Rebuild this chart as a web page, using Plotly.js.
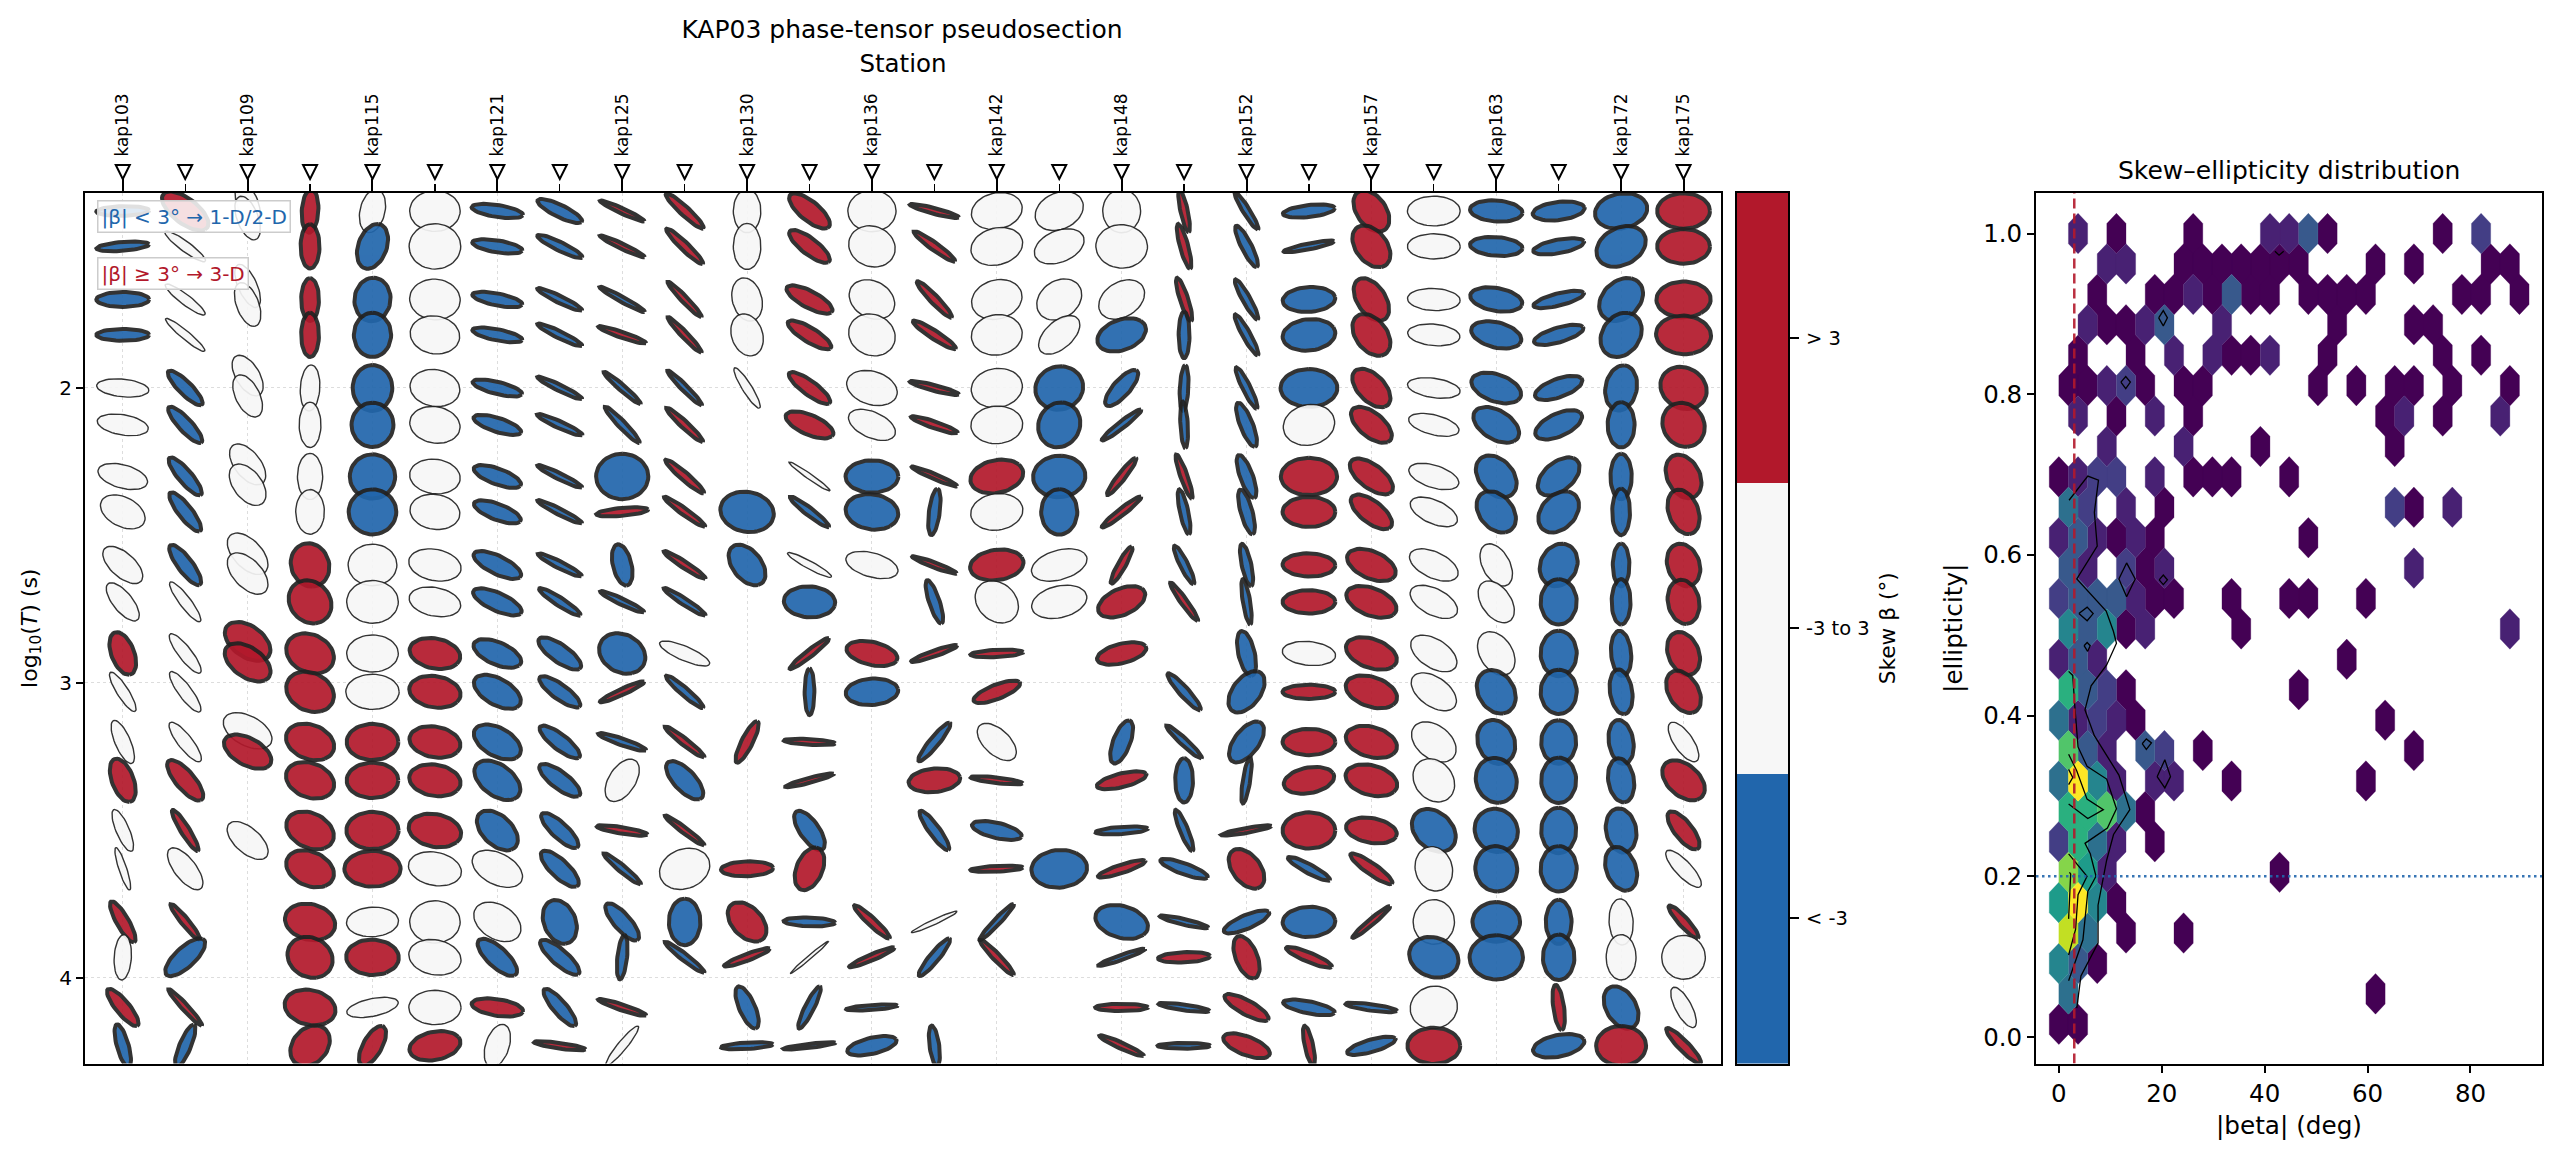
<!DOCTYPE html>
<html><head><meta charset="utf-8">
<script src="https://cdn.plot.ly/plotly-3.0.1.min.js"></script>
<style>html,body{margin:0;padding:0;background:#fff}#chart{width:2560px;height:1158px}</style>
</head><body><div id="chart"></div>
<script>
const _ = null;
// ---------- pseudosection data ----------
const labelledStations = [0,2,4,6,8,10,12,14,16,18,20,22,24,25];
const stationLabels = ['kap103','kap109','kap115','kap121','kap125','kap130','kap136','kap142','kap148','kap152','kap157','kap163','kap172','kap175'];
const otherStations = [1,3,5,7,9,11,13,15,17,19,21,23];
const logPeriods = [1.40,1.52,1.70,1.82,2.00,2.125,2.30,2.42,2.60,2.725,2.90,3.03,3.20,3.33,3.50,3.63,3.81,3.93,4.10,4.23];
const station2Periods = [1.375,1.424,1.654,1.717,1.958,2.027,2.259,2.328,2.562,2.629,2.859,2.930,3.162,3.233,3.534];
// skew class per station, per period: -1 below -3 deg, 0 within +-3 deg, 1 above 3 deg
const skewClass = [
[-1,-1,-1,-1,0,0,0,0,0,0,1,0,0,1,0,0,1,0,1,-1],
[1,0,0,0,-1,-1,-1,-1,-1,0,0,0,0,1,1,0,1,-1,1,-1],
[0,0,0,0,0,0,0,0,0,0,1,1,0,1,0],
[1,1,1,1,0,0,0,0,1,1,1,1,1,1,1,1,1,1,1,1],
[0,-1,-1,-1,-1,-1,-1,-1,0,0,0,0,1,1,1,1,0,1,0,1],
[0,0,0,0,0,0,0,0,0,0,1,1,1,1,1,0,0,0,0,1],
[-1,-1,-1,-1,-1,-1,-1,-1,-1,-1,-1,-1,-1,-1,-1,0,0,-1,1,0],
[-1,-1,-1,-1,-1,-1,-1,-1,-1,-1,-1,-1,-1,-1,-1,-1,-1,-1,-1,1],
[1,1,-1,1,-1,-1,-1,1,-1,-1,-1,1,-1,0,1,-1,-1,-1,1,0],
[1,1,1,1,-1,1,1,1,1,-1,0,-1,1,-1,1,0,-1,-1,_,_],
[0,0,0,0,0,_,_,-1,-1,_,_,_,1,_,_,1,1,1,-1,-1],
[1,1,1,1,1,1,0,-1,0,-1,1,-1,1,1,-1,1,-1,0,-1,-1],
[0,0,0,0,0,0,-1,-1,0,_,1,-1,_,_,_,_,1,1,-1,-1],
[1,1,1,1,1,1,1,-1,1,-1,1,_,-1,1,-1,_,0,-1,_,-1],
[0,0,0,0,0,0,1,0,1,0,1,1,0,1,-1,1,-1,1,_,_],
[0,0,0,0,-1,-1,-1,-1,0,0,_,_,_,_,_,-1,_,_,_,_],
[0,0,0,-1,-1,-1,1,1,1,1,1,_,-1,1,-1,1,-1,-1,1,1],
[1,1,1,-1,-1,-1,1,-1,-1,1,_,-1,-1,-1,-1,-1,-1,1,-1,-1],
[-1,-1,-1,-1,-1,-1,-1,-1,-1,-1,-1,-1,-1,-1,1,1,-1,1,1,1],
[-1,-1,-1,-1,-1,0,1,1,1,1,0,1,1,1,1,-1,-1,1,-1,1],
[1,1,1,1,1,1,1,1,1,1,1,1,1,1,1,1,1,_,-1,-1],
[0,0,0,0,0,0,0,0,0,0,0,0,0,0,-1,0,0,-1,0,1],
[-1,-1,-1,-1,-1,-1,-1,-1,0,0,0,-1,-1,-1,-1,-1,-1,-1,_,_],
[-1,-1,-1,-1,-1,-1,-1,-1,-1,-1,-1,-1,-1,-1,-1,-1,-1,-1,1,-1],
[-1,-1,-1,-1,-1,-1,-1,-1,-1,-1,-1,-1,-1,-1,-1,-1,0,0,-1,1],
[1,1,1,1,1,1,1,1,1,1,1,1,0,1,1,0,1,0,0,1]
];
// major principal value (percent of unit circle)
const phiMajor = [
[98,98,98,98,93,93,95,100,110,110,120,112,118,122,115,115,120,120,115,120],
[125,106,106,110,112,115,118,120,122,117,116,118,116,124,122,120,112,120,118,120],
[115,118,118,118,112,115,115,115,118,118,118,118,110,112,112],
[120,122,118,122,122,120,122,118,120,120,115,115,108,108,112,110,106,115,105,115],
[115,125,120,122,126,122,122,124,110,113,98,94,96,96,97,100,92,100,95,115],
[108,120,108,102,100,100,95,96,98,96,100,100,100,100,104,100,112,100,92,100],
[98,96,97,97,98,98,100,100,108,108,105,112,112,120,118,112,112,118,98,115],
[102,103,103,103,103,102,103,104,102,106,112,110,112,112,114,116,122,116,116,98],
[100,102,108,100,112,118,125,97,115,100,115,100,100,117,97,110,115,122,100,118],
[118,118,116,116,115,116,116,112,108,108,105,112,112,118,110,112,128,112,_,_],
[115,122,115,112,115,_,_,114,118,_,_,_,120,_,_,97,115,98,120,97],
[115,112,108,108,112,105,105,110,100,96,112,128,96,97,116,120,96,108,122,98],
[110,110,108,112,102,100,98,104,100,_,100,98,_,_,_,_,112,100,96,97],
[98,112,118,110,98,98,100,128,95,122,97,_,120,97,120,_,98,117,_,112],
[102,105,108,108,105,100,105,100,102,114,98,100,108,98,98,98,118,115,_,_],
[108,105,112,112,120,124,115,125,108,105,_,_,_,_,_,107,_,_,_,_],
[115,115,110,105,112,112,115,112,110,105,98,_,122,98,98,98,108,98,98,100],
[118,125,122,128,125,128,125,125,112,118,_,117,112,122,118,100,96,97,97,98],
[112,120,118,120,120,125,122,125,118,125,125,120,120,128,97,115,100,120,105,100],
[98,98,98,100,105,110,104,98,98,98,95,98,98,98,98,100,98,100,100,112],
[118,120,122,120,115,113,115,112,108,108,108,108,105,105,98,112,112,_,98,98],
[93,93,93,93,95,95,98,100,105,105,110,112,113,116,122,118,118,115,113,98],
[98,98,100,100,105,112,120,118,115,115,118,122,122,124,120,125,110,122,_,_],
[98,98,100,100,100,105,115,118,118,125,125,122,120,125,125,125,122,125,125,100],
[105,118,122,124,125,125,125,128,118,125,125,124,122,122,122,122,122,120,120,110],
[98,98,100,108,118,122,122,124,118,122,120,120,112,118,115,112,105,116,112,115]
];
const phiMinor = [
[22,20,36,28,46,52,58,65,50,38,38,22,28,36,24,14,20,30,24,18],
[50,22,22,18,24,24,24,24,26,22,26,26,28,34,14,42,12,38,10,18],
[38,38,34,40,44,44,50,54,56,56,62,60,66,58,52],
[26,30,28,28,34,38,44,50,64,70,76,76,74,74,72,72,80,74,80,62],
[44,48,60,62,66,70,76,80,85,90,90,92,92,90,95,95,77,88,45,32],
[88,90,88,85,85,85,85,84,78,72,72,76,74,76,78,82,88,85,90,68],
[28,28,28,26,28,32,36,36,40,40,50,56,60,62,56,70,72,38,40,42],
[26,18,14,14,12,14,12,12,14,16,36,30,30,34,30,34,54,30,24,12],
[10,10,10,12,10,12,88,18,30,12,74,12,14,50,14,12,30,14,12,18],
[16,14,10,10,10,12,14,12,12,12,34,14,12,40,10,84,52,12,_,_],
[48,48,52,55,18,_,_,88,52,_,_,_,18,_,_,36,55,14,26,14],
[38,32,36,30,28,44,12,14,18,78,12,14,12,10,34,44,20,8,14,8],
[84,80,75,80,78,60,82,84,60,_,55,66,_,_,_,_,14,12,10,38],
[12,14,14,16,12,14,10,16,10,16,12,_,16,58,18,_,12,16,_,14],
[84,85,85,88,88,90,78,88,75,72,16,32,52,12,36,12,10,12,_,_],
[78,72,74,56,80,70,88,60,72,78,_,_,_,_,_,92,_,_,_,_],
[66,90,72,68,30,12,12,12,12,58,46,_,28,32,16,18,74,10,16,12],
[10,12,12,16,12,10,10,12,12,10,_,16,12,28,12,24,12,24,12,12],
[10,16,12,12,12,20,20,18,14,10,26,50,44,10,10,50,30,36,30,42],
[28,12,62,78,96,88,95,76,58,58,62,34,66,62,92,18,76,20,28,12],
[52,56,50,56,50,48,48,44,60,62,66,68,70,70,60,22,10,_,14,28],
[78,66,58,56,50,50,55,55,60,60,62,62,68,70,68,65,72,80,82,92],
[52,46,56,60,62,60,62,60,50,55,60,62,62,68,72,70,80,90,_,_],
[44,32,28,34,42,50,56,62,62,60,60,60,58,58,58,60,42,52,16,52],
[82,76,68,66,52,44,34,28,26,30,32,36,40,42,50,50,42,52,52,84],
[90,88,92,92,76,70,56,50,54,52,52,52,36,60,32,32,16,76,30,18]
];
// orientation of the major axis, degrees anticlockwise from the station axis
const phiAngle = [
[2,7,0,0,-10,-18,-30,-55,-60,-65,-78,-68,-75,-78,-75,-78,-70,88,-63,-80],
[-55,-49,-50,-52,-58,-60,-62,-64,-65,-64,-64,-65,-64,-63,-68,-66,-62,58,-59,75],
[-78,-78,-75,-78,-72,-75,-68,-70,-65,-65,-60,-58,-52,-50,-60],
[88,90,90,90,88,90,90,90,-85,-80,-70,-70,-60,-60,-62,-60,-60,-78,-55,75],
[83,80,88,90,90,90,90,90,90,90,90,0,0,0,0,90,10,-60,20,72],
[90,90,-85,-75,-70,-65,-55,-60,-35,-30,-35,-35,-35,-35,-40,-40,90,-50,0,30],
[-14,-15,-18,-18,-22,-28,-32,-33,-40,-38,-40,-50,-52,-60,-65,-52,-62,-58,-15,80],
[-38,-37,-37,-37,-37,-35,-37,-38,-38,-45,-50,-50,-52,-52,-57,-58,-80,-55,-62,-12],
[-35,-36,-40,-28,-53,-58,90,8,-82,-36,-72,35,-28,72,-14,-52,-62,86,-27,62],
[-55,-56,-58,-58,-57,-55,-53,-48,-45,-45,-35,-53,-50,-62,-49,70,90,-50,_,_],
[90,90,-83,-82,-68,_,_,-70,-70,_,_,_,72,_,_,3,-68,30,-75,5],
[-55,-52,-42,-45,-50,-38,-47,-50,-40,-15,50,90,-5,22,-68,78,-3,52,72,10],
[90,-80,-70,-80,-50,-45,0,-50,-30,_,-25,10,_,_,_,_,-55,33,6,22],
[-22,-48,-58,-45,-22,-28,-33,85,-30,-78,28,_,62,12,-65,_,35,62,_,-85],
[60,60,70,80,75,80,40,60,25,-75,4,33,-62,-10,-22,4,58,-58,_,_],
[65,50,72,62,85,85,85,90,35,35,_,_,_,_,_,55,_,_,_,_],
[90,-88,65,48,62,50,63,50,70,45,25,_,77,22,6,27,-42,28,0,-35],
[-82,-80,-78,90,88,-88,-77,-82,-72,-65,_,-60,-55,90,-75,-30,-20,4,-12,0],
[-68,-72,-70,-70,-72,-76,-77,-80,-82,-84,-82,70,68,84,15,-70,35,-77,-42,-35],
[10,17,8,25,90,75,90,0,-3,0,-12,0,0,25,0,-40,8,-33,-18,-82],
[-72,-72,-72,-72,-65,-58,-55,-55,-45,-42,-42,-42,-40,-38,-22,-48,52,_,-12,25],
[0,0,-5,-10,-15,-25,-32,-42,-45,-48,-55,-58,-65,-78,-72,-85,90,-72,85,0],
[-8,-8,-20,-30,-40,-55,-72,-73,-75,-72,-75,-78,-82,-85,-85,-88,90,90,_,_],
[12,17,22,26,33,42,62,72,82,90,90,90,90,90,90,90,90,90,-85,22],
[50,65,72,78,85,90,90,90,90,-90,-87,-85,-85,-85,-85,-80,-88,90,-75,90],
[0,0,-50,-70,-78,-83,-78,-80,-82,-85,-80,-75,-68,-65,-65,-60,-60,90,-72,-58]
];
// ---------- colour bar ----------
const skewBinLabels = ['< -3','-3 to 3','> 3'];
// ---------- hexbin: occupied columns and counts for each lattice row, bottom to top ----------
const hexColumns = [
[0,1],[0,16],[0,1,2],[0,1,3,6],[0,1,2,3],[0,1,2,11],[0,1,2,3,5],[0,1,2,3,4],
[0,1,2,3,5,6,9,16],[0,1,2,4,5,7,18],[0,1,2,3,4,17],[0,1,2,3,12],[0,1,2,15],[0,1,2,3,4,9,23],
[0,1,2,3,4,5,6,9,12,13,16],[0,1,3,4,5,18],[0,1,2,3,4,5,13],[0,1,3,5,17,18,20],[0,1,2,3,5,7,8,9,12],
[2,6,10,17],[1,3,5,7,17,18,20,23],[0,1,2,3,4,6,7,13,15,17,18,20,23],[1,4,6,8,9,10,11,14,20,22],
[1,2,3,4,5,8,14,18,19],[2,5,6,7,8,9,10,11,13,14,15,16,21,22,24],[2,3,6,7,8,9,10,11,12,16,18,22,23],
[1,3,7,11,12,13,14,20,22]
];
const hexCounts = [
[1,1],[5,1],[6,4,1],[11,5,1,1],[7,12,6,1],[10,7,2,1],[3,8,5,2,1],[8,8,9,5,1],
[5,12,6,2,2,2,1,1],[9,4,2,4,3,1,1],[5,2,3,2,1,1],[8,4,3,1,1],[2,4,2,1],[6,4,6,1,2,1,2],
[3,4,4,4,2,1,1,1,1,1,1],[4,2,3,1,2,2],[2,4,2,1,2,1,1],[5,3,2,1,3,1,2],[1,2,3,3,2,1,1,1,1],
[2,2,1,1],[2,1,2,1,1,2,1,2],[1,1,2,3,1,1,1,1,1,1,1,1,1],[1,1,2,2,1,1,2,1,1,1],
[2,1,1,2,4,2,1,1,1],[1,1,1,2,1,4,1,1,1,1,1,1,1,1,1],[2,2,1,1,1,1,1,1,1,1,1,1,1],
[2,1,1,2,2,4,1,1,3]
];
const viridisByCount = ['#440154','#482173','#433e85','#38598c','#2d708e','#25858e','#1e9b8a','#2ab07f','#51c56a','#85d54a','#c2df23','#fde725'];
// ---------- density contours ----------
const contourBeta = [
[1.98,5.63,7.7,6.9,7.46,3.49,9.2,10.6,11.2,9.29,6.27,5.08,6.9,9.29,11.67,13.8,10.63,9.29,7.62,7.62,4.29,3.49],
[1.9,2.7,3.1,3.73,5.48,9.29,11.2,9.44,5.08,6.11,7.22,5.63,4.68,1.9],
[1.9,3.49,5.48,8.65,5.63,1.9],
[1.9,2.7,1.9],
[1.9,5.48,3.73,3.25,1.9],
[2.06,2.3,1.9],
[16.2,17.0,18,17,16.2],
[19.1,20.6,21.7,20.6,19.1],
[4.9,5.5,6.1,5.6,4.9],
[3.9,5.5,6.67,5.5,3.9],
[11.67,13.17,14.84,13.17,11.67],
[19.5,20.3,21.1,20.3,19.5],
[12.06,13.0,13.9,13.0,12.06],
[19.4,20.3,21.1,20.3,19.4],
[42,42.8,43.7]
];
const contourEllipticity = [
[.668,.698,.693,.653,.611,.570,.530,.505,.490,.463,.437,.407,.375,.351,.326,.283,.252,.220,.164,.117,.076,.036],
[.455,.450,.412,.361,.337,.321,.284,.260,.241,.228,.200,.181,.121,.070],
[.352,.331,.296,.283,.272,.290],
[.333,.323,.314],
[.228,.200,.177,.134,.102],
[.205,.203,.147],
[.365,.371,.366,.358,.365],
[.324,.345,.324,.310,.324],
[.487,.491,.487,.480,.487],
[.527,.535,.527,.518,.527],
[.570,.590,.570,.548,.570],
[.569,.575,.569,.563,.569],
[.815,.822,.815,.807,.815],
[.895,.904,.895,.885,.895],
[.978,.973,.978]
];
const betaThreshold = 3, ellipticityThreshold = 0.2;

// ---------- frame geometry, CSS pixels ----------
const W = 2560, H = 1158;
const fx = p => p / W, fy = p => 1 - p / H;
const mainBox = {l:85, r:1721, t:193, b:1063.5};
const cbBox   = {l:1736.5, r:1788, t:193, b:1063.5};
const sideBox = {l:2036, r:2542, t:193, b:1063.5};
const dom = b => ({x:[fx(b.l), fx(b.r)], y:[fy(b.b), fy(b.t)]});
const unitX = 0.9194, unitY = 0.1293;       // one unit-circle diameter in station / decade units
const fills = {'-1':'#2166ac', '0':'#f7f7f7', '1':'#b2182b'};
const traces = [];

// ellipses, drawn from the value arrays in axis coordinates
skewClass.forEach((row, s) => row.forEach((cls, i) => {
  if (cls === null) return;
  const thick = cls !== 0;
  const a = (phiMajor[s][i] - (thick ? 6 : 1)) / 200, b = (phiMinor[s][i] + (thick ? 3 : 0)) / 200, phi = phiAngle[s][i] * Math.PI / 180;
  const t0 = (s === 2 ? station2Periods : logPeriods)[i];
  const xs = [], ys = [];
  for (let k = 0; k <= 48; k++) {
    const t = k / 48 * 2 * Math.PI;
    const u = a * Math.cos(phi) * Math.cos(t) - b * Math.sin(phi) * Math.sin(t);
    const v = a * Math.sin(phi) * Math.cos(t) + b * Math.cos(phi) * Math.sin(t);
    xs.push(s + u * unitX); ys.push(t0 - v * unitY);
  }
  traces.push({type:'scatter', mode:'lines', x:xs, y:ys, xaxis:'x', yaxis:'y', fill:'toself', fillcolor:fills[cls],
    line:{color:'#222222', width: thick ? 4 : 1.4}, opacity:0.92, hoverinfo:'skip', showlegend:false});
}));

// colour bar
traces.push({type:'heatmap', xaxis:'x3', yaxis:'y3', x:[0], y:[0,1,2], z:[[0],[1],[2]], zmin:0, zmax:2, showscale:false, hoverinfo:'skip',
  colorscale:[[0,fills['-1']],[1/3,fills['-1']],[1/3,fills['0']],[2/3,fills['0']],[2/3,fills['1']],[1,fills['1']]]});

// hexbin
const hexDX = 3.73, hexDY = 0.03785, hexY0 = 0.0158;
const hexByCount = viridisByCount.map(() => ({x:[], y:[]}));
hexColumns.forEach((cols, n) => cols.forEach((k, j) => {
  const cx = k * hexDX + (n % 2 ? hexDX / 2 : 0), cy = hexY0 + n * hexDY;
  const hw = hexDX / 2, h1 = hexDY / 3, h2 = hexDY * 2 / 3;
  const g = hexByCount[hexCounts[n][j] - 1];
  g.x.push(cx+hw, cx+hw, cx, cx-hw, cx-hw, cx, cx+hw, null);
  g.y.push(cy-h1, cy+h1, cy+h2, cy+h1, cy-h1, cy-h2, cy-h1, null);
}));
hexByCount.forEach((g, i) => traces.push({type:'scatter', mode:'lines', x:g.x, y:g.y, xaxis:'x2', yaxis:'y2', fill:'toself',
  fillcolor:viridisByCount[i], line:{color:viridisByCount[i], width:0.3}, hoverinfo:'skip', showlegend:false}));
contourBeta.forEach((xs, i) => traces.push({type:'scatter', mode:'lines', x:xs, y:contourEllipticity[i], xaxis:'x2', yaxis:'y2',
  line:{color:'#000', width:1.3}, hoverinfo:'skip', showlegend:false}));
traces.push({type:'scatter', mode:'lines', x:[betaThreshold,betaThreshold], y:[-0.033,1.0504], xaxis:'x2', yaxis:'y2',
  line:{color:'#b2182b', width:2.5, dash:'10px,5px'}, opacity:0.9, hoverinfo:'skip', showlegend:false});
traces.push({type:'scatter', mode:'lines', x:[-4.44,93.9], y:[ellipticityThreshold,ellipticityThreshold], xaxis:'x2', yaxis:'y2',
  line:{color:'#2166ac', width:2.5, dash:'2.5px,3.5px'}, opacity:0.9, hoverinfo:'skip', showlegend:false});

const font = 'DejaVu Sans';
const stationAll = labelledStations.concat(otherStations);
const triangles = stationAll.map(s => ({type:'path', xref:'x', yref:'paper', xsizemode:'pixel', ysizemode:'pixel',
  xanchor:s, yanchor:fy(172), path:'M -7,7 L 7,7 L 0,-7 Z', fillcolor:'#fff', line:{color:'#000', width:2}, layer:'above'}));

const layout = {
  width:W, height:H, margin:{l:0,r:0,t:0,b:0,pad:0}, paper_bgcolor:'#fff', plot_bgcolor:'#fff', showlegend:false,
  font:{family:font, color:'#000', size:18},
  title:{text:'KAP03 phase-tensor pseudosection', x:fx(902), xref:'container', xanchor:'center', y:fy(29), yref:'container', yanchor:'middle', font:{size:25, family:font}},
  xaxis:{domain:dom(mainBox).x, range:[-0.605,25.6], side:'top', anchor:'y', showline:true, linecolor:'#000', linewidth:2, mirror:true, zeroline:false,
    tickmode:'array', tickvals:labelledStations, ticktext:stationLabels, tickangle:-90, tickfont:{size:17, family:font}, ticks:'outside', ticklen:12, tickwidth:2, tickcolor:'#000', ticklabelstandoff:19,
    showgrid:true, gridcolor:'#dddddd', griddash:'dot', gridwidth:1,
    minor:{tickmode:'array', tickvals:otherStations, ticks:'outside', ticklen:7, tickwidth:1.3, tickcolor:'#000', showgrid:false},
    title:{text:'Station', standoff:14, font:{size:24.5, family:font}}},
  yaxis:{domain:dom(mainBox).y, range:[4.29,1.339], anchor:'x', showline:true, linecolor:'#000', linewidth:2, mirror:true, zeroline:false,
    tickmode:'array', tickvals:[2,3,4], ticktext:['2','3','4'], tickfont:{size:20, family:font}, ticks:'outside', ticklen:7, tickwidth:2, tickcolor:'#000',
    showgrid:true, gridcolor:'#dddddd', griddash:'dot', gridwidth:1,
    title:{text:'log<sub>10</sub>(<i>T</i>) (s)', standoff:16, font:{size:22, family:font}}},
  xaxis3:{domain:dom(cbBox).x, anchor:'y3', showline:true, linecolor:'#000', linewidth:2, mirror:true, showticklabels:false, ticks:'', showgrid:false, zeroline:false, range:[-0.5,0.5]},
  yaxis3:{domain:dom(cbBox).y, anchor:'x3', side:'right', range:[-0.5,2.5], showline:true, linecolor:'#000', linewidth:2, mirror:true, zeroline:false, showgrid:false,
    tickmode:'array', tickvals:[0,1,2], ticktext:skewBinLabels, tickfont:{size:19.5, family:font}, ticks:'outside', ticklen:9, tickwidth:2, tickcolor:'#000', ticklabelstandoff:3,
    title:{text:'Skew β (°)', standoff:11, font:{size:21.7, family:font}}},
  xaxis2:{domain:dom(sideBox).x, anchor:'y2', range:[-4.44,93.9], showline:true, linecolor:'#000', linewidth:2, mirror:true, zeroline:false, showgrid:false,
    tickmode:'array', tickvals:[0,20,40,60,80], tickfont:{size:24.5, family:font}, ticks:'outside', ticklen:7, tickwidth:2, tickcolor:'#000',
    title:{text:'|beta| (deg)', standoff:10, font:{size:24.7, family:font}}},
  yaxis2:{domain:dom(sideBox).y, anchor:'x2', range:[-0.033,1.0504], showline:true, linecolor:'#000', linewidth:2, mirror:true, zeroline:false, showgrid:false,
    tickmode:'array', tickvals:[0,0.2,0.4,0.6,0.8,1], ticktext:['0.0','0.2','0.4','0.6','0.8','1.0'], tickfont:{size:24.5, family:font}, ticks:'outside', ticklen:7, tickwidth:2, tickcolor:'#000',
    title:{text:'|ellipticity|', standoff:13, font:{size:24.7, family:font}}},
  annotations:[
    {xref:'paper', yref:'paper', x:fx(97), y:fy(200), xanchor:'left', yanchor:'top', showarrow:false, text:'|β| &lt; 3° → 1-D/2-D', font:{size:20, color:'#2166ac', family:font}, bgcolor:'rgba(255,255,255,0.85)', bordercolor:'#cccccc', borderwidth:1.5, borderpad:3},
    {xref:'paper', yref:'paper', x:fx(97), y:fy(257), xanchor:'left', yanchor:'top', showarrow:false, text:'|β| ≥ 3° → 3-D', font:{size:20, color:'#b2182b', family:font}, bgcolor:'rgba(255,255,255,0.85)', bordercolor:'#cccccc', borderwidth:1.5, borderpad:3},
    {xref:'paper', yref:'paper', x:fx(2289), y:fy(170), xanchor:'center', yanchor:'middle', showarrow:false, text:'Skew–ellipticity distribution', font:{size:25, family:font}}
  ],
  shapes:triangles
};
Plotly.newPlot('chart', traces, layout, {staticPlot:true, displayModeBar:false});
</script></body></html>
